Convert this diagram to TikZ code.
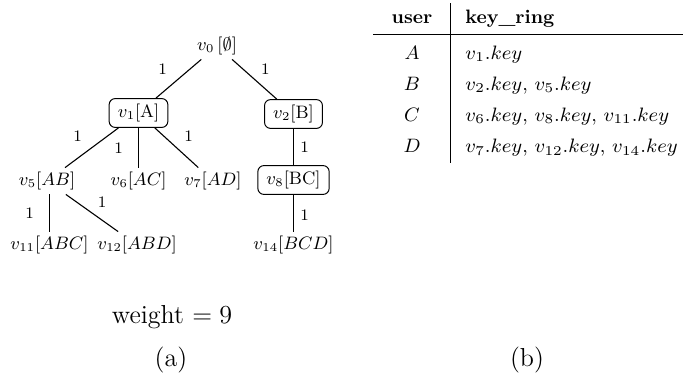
\RequirePackage{fix-cm}
\documentclass[tikz,border=0pt]{standalone}
\usepackage{graphicx}
\newcommand{\wm}[1]{\scalebox{1.03}[1]{#1}}
\begin{document}
\begin{tikzpicture}[x=0.5pt,y=-0.5pt,
  tree/.style={font=\fontsize{9}{11}\selectfont, inner sep=2pt},
  kbox/.style={tree, draw, rounded corners=3pt, inner xsep=4.3pt, inner ysep=2.7pt, line width=0.5pt},
  link/.style={line width=0.55pt},
  wt/.style={font=\fontsize{8}{10}\selectfont, inner sep=0pt},
  tab/.style={font=\fontsize{9.7}{12}\selectfont, inner sep=0pt},
  rule/.style={line width=0.5pt},
  captext/.style={font=\fontsize{13}{15}\selectfont, inner sep=0pt, anchor=base}
]
\useasboundingbox (0,0) rectangle (689,380);
% tree nodes
\node[tree] (v0) at (217,46) {$v_0\,[\emptyset]$};
\node[kbox] (v1) at (138.5,113) {$v_1[\mathrm{A}]$};
\node[kbox] (v2) at (293.5,114) {$v_2[\mathrm{B}]$};
\node[tree] (v5) at (47,181) {$v_5[AB]$};
\node[tree] (v6) at (138.5,181) {$v_6[AC]$};
\node[tree] (v7) at (213,181) {$v_7[AD]$};
\node[kbox] (v8) at (293.5,180) {$v_8[\mathrm{BC}]$};
\node[tree] (v11) at (49.5,245) {$v_{11}[ABC]$};
\node[tree] (v12) at (137,245) {$v_{12}[ABD]$};
\node[tree] (v14) at (293.5,245) {$v_{14}[BCD]$};
% edges
\draw[link] (v0) -- node[wt, shift={(-16,-10)}] {1} (v1);
\draw[link] (v0) -- node[wt, shift={(11,-10)}] {1} (v2);
\draw[link] (v1) -- node[wt, shift={(-14,-12)}] {1} (v5);
\draw[link] (v1) -- node[wt, shift={(-20,0)}] {1} (v6);
\draw[link] (v1) -- node[wt, shift={(12,-12)}] {1} (v7);
\draw[link] (v2) -- node[wt, shift={(11,0)}] {1} (v8);
\draw[link] (v8) -- node[wt, shift={(11,2)}] {1} (v14);
\draw[link] (v5.south -| v11) -- node[wt, shift={(-20,0)}] {1} (v11);
\draw[link] (v5) -- node[wt, shift={(10,-11)}] {1} (v12);
% table
\draw[rule] (450.5,3) -- (450.5,163);
\draw[rule] (373,34.5) -- (683,34.5);
\node[tab, anchor=base] (hu) at (412,24) {\bfseries user};
\node[tab, anchor=base west] (hk) at (465,24) {\bfseries key\_ring};
\node[tab, anchor=base] (ua) at (412,59) {$A$};
\node[tab, anchor=base] (ub) at (412,90.3) {$B$};
\node[tab, anchor=base] (uc) at (412,121.6) {$C$};
\node[tab, anchor=base] (ud) at (412,152.9) {$D$};
\node[tab, anchor=base west] (ka) at (465,59) {\wm{$v_1.key$}};
\node[tab, anchor=base west] (kb) at (465,90.3) {\wm{$v_2.key$, $v_5.key$}};
\node[tab, anchor=base west] (kc) at (465,121.6) {\wm{$v_6.key$, $v_8.key$, $v_{11}.key$}};
\node[tab, anchor=base west] (kd) at (465,152.9) {\wm{$v_7.key$, $v_{12}.key$, $v_{14}.key$}};
% captions
\node[captext] (w) at (172,323) {weight $=9$};
\node[captext] (ca) at (171,366) {(a)};
\node[captext] (cb) at (527,366) {(b)};
\end{tikzpicture}
\end{document}
